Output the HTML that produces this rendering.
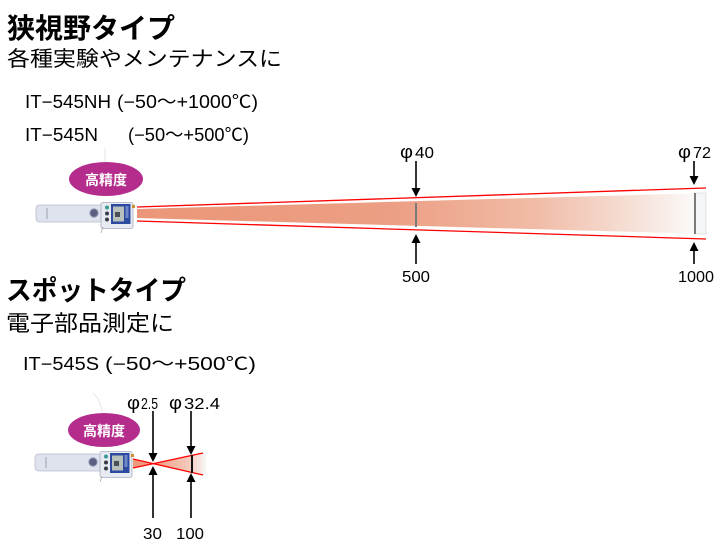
<!DOCTYPE html>
<html><head><meta charset="utf-8"><style>
html,body{margin:0;padding:0;background:#fff;width:720px;height:550px;overflow:hidden}
svg{display:block}
.jp{font-family:"Liberation Sans","Noto Sans CJK JP",sans-serif}
.lat{font-family:"Liberation Sans","Noto Sans CJK JP",sans-serif}
</style></head><body>
<svg width="720" height="550" viewBox="0 0 720 550" xmlns="http://www.w3.org/2000/svg">
<defs>
<linearGradient id="beam" x1="137" y1="0" x2="706" y2="0" gradientUnits="userSpaceOnUse">
<stop offset="0" stop-color="#eb9678"/>
<stop offset="0.45" stop-color="#ec9f84"/>
<stop offset="0.7" stop-color="#f0bba6"/>
<stop offset="0.88" stop-color="#f6e2d9"/>
<stop offset="0.97" stop-color="#fbf7f5"/>
<stop offset="1" stop-color="#f6f8fa"/>
</linearGradient>
<linearGradient id="spot" x1="152" y1="0" x2="205" y2="0" gradientUnits="userSpaceOnUse">
<stop offset="0" stop-color="#ec9a80"/>
<stop offset="0.7" stop-color="#f4cbbc"/>
<stop offset="1" stop-color="#f8f4f2"/>
</linearGradient>
<g id="dev">
  <path d="M40,205 L102,205 L102,222 L40,222 Q36,222 36,218 L36,209 Q36,205 40,205 Z" fill="#dfe3ee" stroke="#b9bdcc" stroke-width="0.8"/>
  <line x1="47" y1="208" x2="47" y2="219" stroke="#9a9fae" stroke-width="1"/>
  <circle cx="94" cy="213" r="4.2" fill="#5b6080" stroke="#9aa0b8" stroke-width="1"/>
  <rect x="101" y="202.5" width="32" height="26" rx="2" fill="#e8eaf2" stroke="#a9adc0" stroke-width="0.8"/>
  <circle cx="107" cy="207.5" r="2" fill="#3a9a92"/>
  <circle cx="107" cy="213.5" r="2" fill="#3a3d48"/>
  <circle cx="107" cy="219.5" r="2" fill="#3a3d48"/>
  <rect x="111" y="204" width="19.5" height="20" fill="#2d4aa0"/>
  <rect x="113" y="206.5" width="11" height="15" fill="#b8c0bc"/>
  <rect x="115" y="212" width="5" height="5" fill="#4a4f58"/>
  <rect x="125.5" y="206" width="3" height="12" fill="#6f86c8"/>
  <rect x="132" y="205" width="3" height="3" fill="#d09030"/>
  <line x1="103" y1="227" x2="101" y2="233" stroke="#aaa" stroke-width="0.8"/>
</g>
</defs>

<!-- Narrow field section -->
<text x="7" y="38" class="jp" font-size="28" font-weight="bold" textLength="168" lengthAdjust="spacingAndGlyphs">狭視野タイプ</text>
<text x="7" y="66" class="jp" font-size="21" textLength="275" lengthAdjust="spacingAndGlyphs">各種実験やメンテナンスに</text>
<text x="25" y="108" class="lat" font-size="18" textLength="86" lengthAdjust="spacingAndGlyphs">IT−545NH</text>
<text x="117" y="108" class="lat" font-size="18" textLength="141" lengthAdjust="spacingAndGlyphs">(−50～+1000℃)</text>
<text x="25" y="141" class="lat" font-size="18" textLength="73" lengthAdjust="spacingAndGlyphs">IT−545N</text>
<text x="128" y="141" class="lat" font-size="18" textLength="121" lengthAdjust="spacingAndGlyphs">(−50～+500℃)</text>

<line x1="105" y1="148" x2="105" y2="162" stroke="#e6e6e6" stroke-width="1"/>
<ellipse cx="106" cy="179" rx="37" ry="17" fill="#b42d8c"/>
<text x="106" y="185" class="jp" font-size="14" font-weight="bold" fill="#fff" text-anchor="middle">高精度</text>

<polygon points="137,209 706,193 706,234 137,218" fill="url(#beam)"/>
<rect x="695" y="193" width="11" height="41" fill="#f4f7fa" stroke="#dcdcdc" stroke-width="0.8"/>
<line x1="137" y1="207" x2="706" y2="188" stroke="#ff0000" stroke-width="1.3"/>
<line x1="137" y1="221" x2="706" y2="239" stroke="#ff0000" stroke-width="1.3"/>
<line x1="416" y1="203" x2="416" y2="227" stroke="#7a7a7a" stroke-width="2"/>
<line x1="695" y1="193" x2="695" y2="234" stroke="#7a7a7a" stroke-width="2"/>

<use href="#dev"/>

<!-- narrow arrows -->
<line x1="416" y1="161" x2="416" y2="190" stroke="#000" stroke-width="1.6"/>
<polygon points="411.5,188 420.5,188 416,197" fill="#000"/>
<line x1="416" y1="242" x2="416" y2="264" stroke="#000" stroke-width="1.6"/>
<polygon points="411.5,243 420.5,243 416,234" fill="#000"/>
<line x1="694" y1="161" x2="694" y2="178" stroke="#000" stroke-width="1.6"/>
<polygon points="689.5,176 698.5,176 694,185" fill="#000"/>
<line x1="694" y1="250" x2="694" y2="264" stroke="#000" stroke-width="1.6"/>
<polygon points="689.5,251 698.5,251 694,242" fill="#000"/>

<text x="400" y="158" class="lat" font-size="18" textLength="13" lengthAdjust="spacingAndGlyphs">φ</text>
<text x="415" y="158" class="lat" font-size="16" textLength="19" lengthAdjust="spacingAndGlyphs">40</text>
<text x="678" y="158" class="lat" font-size="18" textLength="13" lengthAdjust="spacingAndGlyphs">φ</text>
<text x="693" y="158" class="lat" font-size="16" textLength="18" lengthAdjust="spacingAndGlyphs">72</text>
<text x="402" y="282" class="lat" font-size="16" textLength="28" lengthAdjust="spacingAndGlyphs">500</text>
<text x="678" y="282" class="lat" font-size="16" textLength="36" lengthAdjust="spacingAndGlyphs">1000</text>

<!-- Spot section -->
<text x="6" y="300" class="jp" font-size="27" font-weight="bold" textLength="180" lengthAdjust="spacingAndGlyphs">スポットタイプ</text>
<text x="6" y="331" class="jp" font-size="22" textLength="168" lengthAdjust="spacingAndGlyphs">電子部品測定に</text>
<text x="23" y="370" class="lat" font-size="18" textLength="76" lengthAdjust="spacingAndGlyphs">IT−545S</text>
<text x="105" y="370" class="lat" font-size="18" textLength="151" lengthAdjust="spacingAndGlyphs">(−50～+500℃)</text>

<path d="M93,393 Q101,400 102,413" fill="none" stroke="#e6e6e6" stroke-width="1"/>
<ellipse cx="104" cy="430" rx="36" ry="17" fill="#b42d8c"/>
<text x="104" y="436" class="jp" font-size="14" font-weight="bold" fill="#fff" text-anchor="middle">高精度</text>

<polygon points="133,459 152,464 133,468" fill="#ec9a80"/>
<polygon points="152,464 203,453 203,475" fill="url(#spot)"/>
<rect x="203" y="453" width="3" height="22" fill="#f6f4f3"/>
<line x1="133" y1="459" x2="203" y2="475" stroke="#ff0000" stroke-width="1.3"/>
<line x1="133" y1="468" x2="203" y2="453" stroke="#ff0000" stroke-width="1.3"/>
<line x1="192" y1="455" x2="192" y2="473" stroke="#111" stroke-width="2"/>

<use href="#dev" transform="translate(-1,249)"/>

<line x1="153" y1="411" x2="153" y2="455" stroke="#000" stroke-width="1.6"/>
<polygon points="148.5,453 157.5,453 153,462" fill="#000"/>
<line x1="153" y1="474" x2="153" y2="518" stroke="#000" stroke-width="1.6"/>
<polygon points="148.5,475 157.5,475 153,466" fill="#000"/>
<line x1="191" y1="411" x2="191" y2="448" stroke="#000" stroke-width="1.6"/>
<polygon points="186.5,446 195.5,446 191,455" fill="#000"/>
<line x1="191" y1="481" x2="191" y2="518" stroke="#000" stroke-width="1.6"/>
<polygon points="186.5,482 195.5,482 191,473" fill="#000"/>

<text x="127" y="409" class="lat" font-size="18" textLength="13" lengthAdjust="spacingAndGlyphs">φ</text>
<text x="141" y="409" class="lat" font-size="16" textLength="17" lengthAdjust="spacingAndGlyphs">2.5</text>
<text x="169" y="409" class="lat" font-size="18" textLength="13" lengthAdjust="spacingAndGlyphs">φ</text>
<text x="184" y="409" class="lat" font-size="16" textLength="36" lengthAdjust="spacingAndGlyphs">32.4</text>
<text x="143" y="539" class="lat" font-size="16" textLength="19" lengthAdjust="spacingAndGlyphs">30</text>
<text x="176" y="539" class="lat" font-size="16" textLength="28" lengthAdjust="spacingAndGlyphs">100</text>
</svg>
</body></html>
